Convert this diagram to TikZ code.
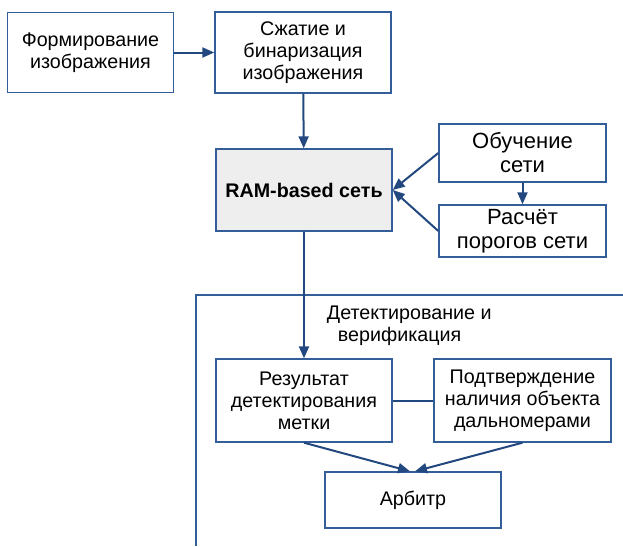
\documentclass[tikz,border=0pt]{standalone}
\usepackage{fontspec}
\setmainfont{Liberation Sans}
\usepackage{xcolor}
\usepackage{tikz}
\usetikzlibrary{arrows.meta}
\definecolor{boxcol}{RGB}{52,94,154}
\definecolor{arrcol}{RGB}{35,72,128}
\tikzset{
  blockbox/.style={draw=boxcol,line width=1.4pt,inner sep=0.75pt,align=center,font=\fontsize{19.7}{22}\selectfont},
  bigbox/.style={blockbox,font=\fontsize{22}{24}\selectfont},
  link/.style={draw=arrcol,line width=2pt,-{Triangle[length=12pt,width=10pt]}},
  plainlink/.style={draw=arrcol,line width=2pt}
}
\begin{document}
\begin{tikzpicture}[x=1pt,y=1pt,yscale=-1,xscale=1]
\useasboundingbox (0,0) rectangle (623,546);
\node [blockbox,minimum width=166,minimum height=80] (form) at (90.5,52.5) {Формирование\\изображения};
\node [blockbox,minimum width=176,minimum height=81] (szhat) at (303,52.5) {Сжатие и\\бинаризация\\изображения};
\node [blockbox,fill=gray!13,minimum width=176,minimum height=82] (ram) at (304,190) {\textbf{RAM-based сеть}};
\node [bigbox,minimum width=167,minimum height=58] (obuch) at (522.5,153) {Обучение\\сети};
\node [bigbox,minimum width=167,minimum height=52] (rasch) at (522.5,231) {Расчёт\\порогов сети};
\node [blockbox,minimum width=176,minimum height=83] (rez) at (304,400.5) {Результат\\детектирования\\метки};
\node [blockbox,minimum width=177,minimum height=83] (podt) at (522.5,400.5) {Подтверждение\\наличия объекта\\дальномерами};
\node [blockbox,minimum width=176,minimum height=56] (arb) at (413,500) {Арбитр};
\node [anchor=west,align=left,inner sep=0.75pt,font=\fontsize{19.7}{22}\selectfont] (detlabel) at (326,326) {Детектирование и\\\hspace*{11pt}верификация};
\coordinate (frameSW) at (196,546);
\coordinate (frameNE) at (623,295);
\draw [draw=boxcol,line width=1.4pt] (frameSW) |- (frameNE);
\draw [link] (form) -- (szhat);
\draw [link] (szhat) -- (ram);
\draw [link] (obuch.west) -- (ram.east);
\draw [link] (rasch.west) -- (ram.east);
\draw [link] (obuch) -- (rasch);
\draw [link] (ram) -- (rez);
\draw [plainlink] (rez) -- (podt);
\draw [link] (rez.south) -- ([xshift=-3pt]arb.north);
\draw [link] (podt.south) -- ([xshift=2pt]arb.north);
\end{tikzpicture}
\end{document}
